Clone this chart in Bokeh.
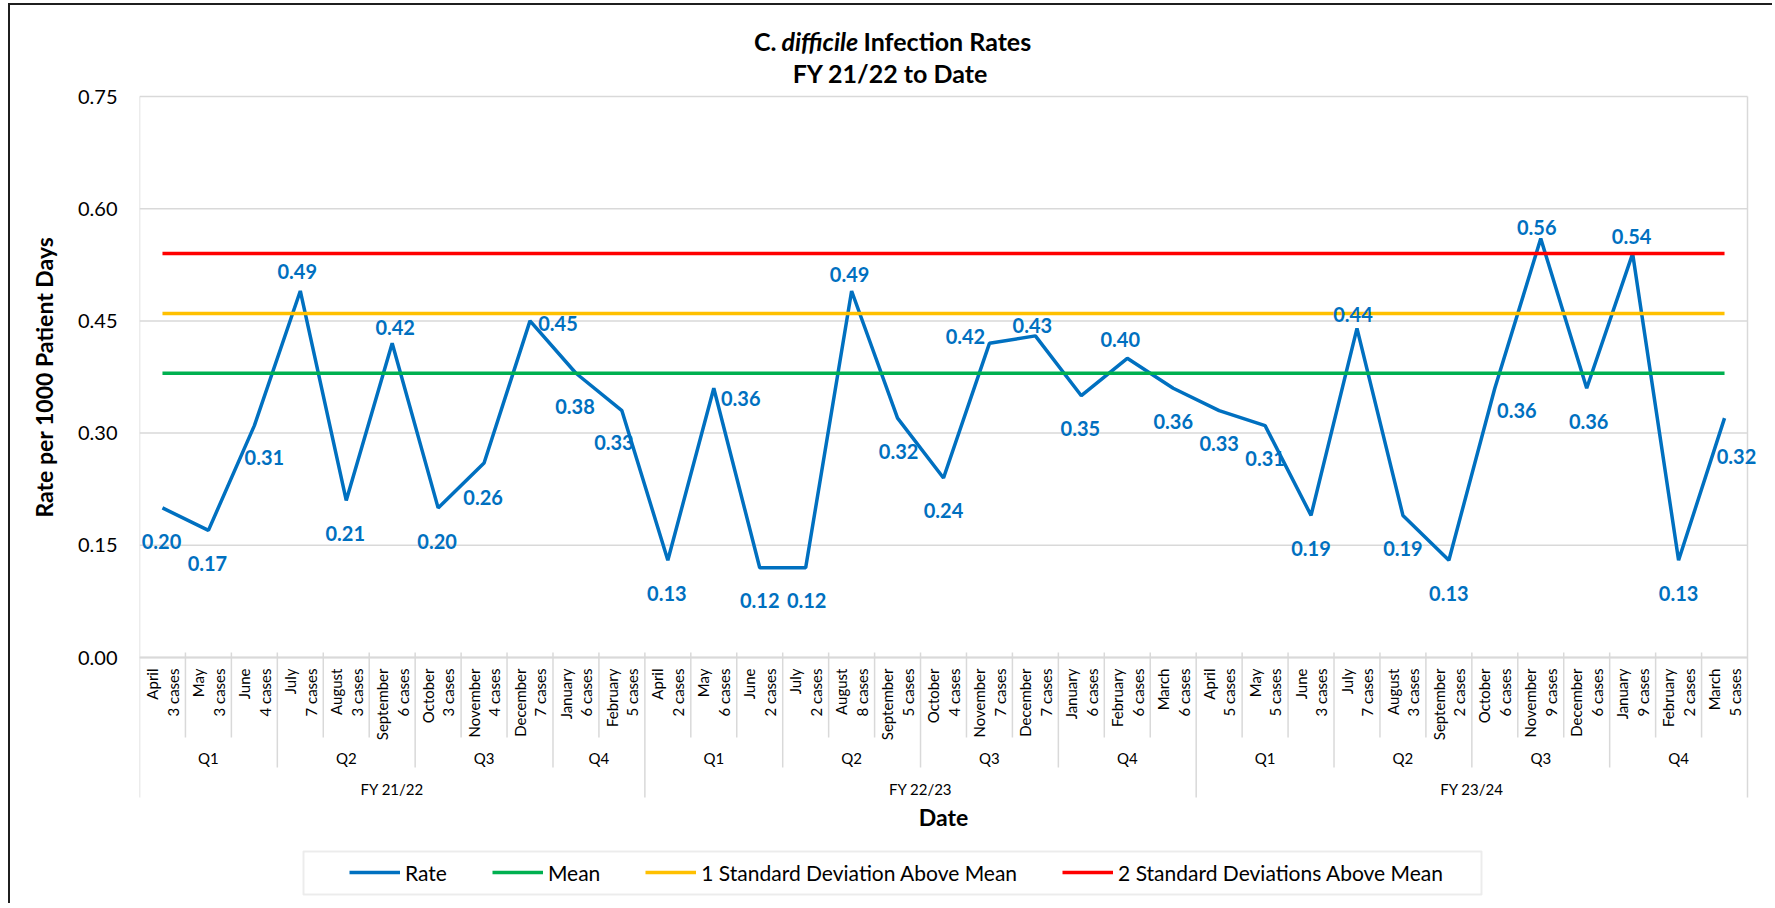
import math
from bokeh.plotting import figure
from bokeh.models import (Range1d, FixedTicker, NumeralTickFormatter, ColumnDataSource,
                          Legend, LegendItem, BoxAnnotation, Title)
from bokeh.core.properties import value
from bokeh.embed import file_html
from bokeh.resources import INLINE

# ---------------- data ----------------
months = ["April", "May", "June", "July", "August", "September", "October", "November",
          "December", "January", "February",
          "April", "May", "June", "July", "August", "September", "October", "November",
          "December", "January", "February", "March",
          "April", "May", "June", "July", "August", "September", "October", "November",
          "December", "January", "February", "March"]
cases = [3, 3, 4, 7, 3, 6, 3, 4, 7, 6, 5,
         2, 6, 2, 2, 8, 5, 4, 7, 7, 6, 6, 6,
         5, 5, 3, 7, 3, 2, 6, 9, 6, 9, 2, 5]
quarters = ["Q1", "Q1", "Q1", "Q2", "Q2", "Q2", "Q3", "Q3", "Q3", "Q4", "Q4",
            "Q1", "Q1", "Q1", "Q2", "Q2", "Q2", "Q3", "Q3", "Q3", "Q4", "Q4", "Q4",
            "Q1", "Q1", "Q1", "Q2", "Q2", "Q2", "Q3", "Q3", "Q3", "Q4", "Q4", "Q4"]
fiscal_years = ["FY 21/22"] * 11 + ["FY 22/23"] * 12 + ["FY 23/24"] * 12
rates = [0.20, 0.17, 0.31, 0.49, 0.21, 0.42, 0.20, 0.26, 0.45, 0.38, 0.33,
         0.13, 0.36, 0.12, 0.12, 0.49, 0.32, 0.24, 0.42, 0.43, 0.35, 0.40, 0.36,
         0.33, 0.31, 0.19, 0.44, 0.19, 0.13, 0.36, 0.56, 0.36, 0.54, 0.13, 0.32]
mean_rate = 0.38
one_sd_above = 0.46
two_sd_above = 0.54
y_ticks = [0.00, 0.15, 0.30, 0.45, 0.60, 0.75]

# data-label nudges in pixels (dx right, dy down) -- placement only
label_nudge = [(-1, 34), (-1, 33), (10, 32), (-3, -19), (-1, 33), (3, -16), (-1, 34),
               (-1, 34), (28, 3), (-1, 33), (-8, 32),
               (-1, 33), (27, 10), (0, 33), (1, 33), (-2, -16), (1, 33), (0, 33),
               (-24, -7), (-3, -10), (-1, 33), (-7, -19), (0, 33),
               (0, 33), (0, 33), (0, 33), (-4, -14), (0, 33), (0, 33), (22, 22),
               (-4, -11), (2, 33), (-1, -17), (0, 33), (12, 38)]

# ---------------- geometry (page pixels) ----------------
FONT = "Lato"
BLUE, GREEN, GOLD, RED = "#0070C0", "#00B050", "#FFC000", "#FF0000"
GRID = "#d9d9d9"
FIG_X0, FIG_Y0 = 10, 5          # canvas origin on the page (after margin + border)
W, H = 1764, 900
PLOT_L, PLOT_R = 139, 1747
ZERO_Y, TOP_Y = 657, 96
n = len(months)
cat_w = (PLOT_R - PLOT_L) / n
ppu = (ZERO_Y - TOP_Y) / max(y_ticks)


def px_to_x(px):
    return -0.5 + (px - PLOT_L) / cat_w


def py_to_y(py):
    return (ZERO_Y - py) / ppu


p = figure(width=W, height=H, output_backend="svg", toolbar_location=None,
           x_range=Range1d(-0.5, px_to_x(FIG_X0 + W)),
           y_range=Range1d(py_to_y(FIG_Y0 + H), py_to_y(FIG_Y0)),
           x_axis_location=None,
           min_border_left=PLOT_L - FIG_X0, min_border_right=0,
           min_border_top=0, min_border_bottom=0)
p.styles = {"margin-left": "8px", "margin-top": "3px",
            "border-left": "2px solid #1f1f1f", "border-top": "2px solid #1f1f1f"}
p.outline_line_color = None
p.background_fill_color = "white"
p.border_fill_color = "white"
p.xgrid.visible = False
p.ygrid.visible = False

ax = p.yaxis[0]
ax.ticker = FixedTicker(ticks=y_ticks)
ax.formatter = NumeralTickFormatter(format="0.00")
ax.axis_line_color = None
ax.major_tick_line_color = None
ax.minor_tick_line_color = None
ax.major_tick_out = 0
ax.major_tick_in = 0
ax.major_label_standoff = 22
ax.major_label_text_font = FONT
ax.major_label_text_font_size = "20px"
ax.major_label_text_color = "#000000"

# y-axis title: text starts (bottom end) at page y 517, i.e. centred on the 0..0.75 span
ytitle = Title(text="Rate per 1000 Patient Days", align="left",
               offset=(FIG_Y0 + H) - 517, standoff=33,
               text_font=FONT, text_font_size="23px", text_font_style="bold",
               text_color="#000000")
p.add_layout(ytitle, "left")

xs = list(range(n))

# horizontal gridlines, only across the category span
p.segment(x0=[-0.5] * len(y_ticks), y0=y_ticks, x1=[n - 0.5] * len(y_ticks), y1=y_ticks,
          line_color=GRID, line_width=1.5)
p.segment(x0=[-0.5], y0=[0], x1=[n - 0.5], y1=[0], line_color=GRID, line_width=2)

# category separators (3 levels) and plot borders
sx, sy0, sy1 = [], [], []
for b in range(n + 1):
    if b == 0 or b == n:
        top, bot = max(y_ticks), py_to_y(797)
    elif fiscal_years[b] != fiscal_years[b - 1]:
        top, bot = py_to_y(ZERO_Y - 5), py_to_y(797)
    elif quarters[b] != quarters[b - 1]:
        top, bot = py_to_y(ZERO_Y - 5), py_to_y(767)
    else:
        top, bot = py_to_y(ZERO_Y - 5), py_to_y(737)
    sx.append(b - 0.5)
    sy0.append(top)
    sy1.append(bot)
p.segment(x0=sx, y0=sy0, x1=sx, y1=sy1, line_color=GRID, line_width=1.5)

# month labels
month_src = ColumnDataSource(dict(x=xs, y=[py_to_y(ZERO_Y + 11)] * n,
                                  t=[f"{m}\n{c} cases" for m, c in zip(months, cases)]))
p.text(x="x", y="y", text="t", source=month_src, angle=math.pi / 2,
       text_align="right", text_baseline="middle", text_font=value(FONT),
       text_font_size="15px", text_color="#000000", text_line_height=1.15)

# quarter and FY labels
q_x, q_t, f_x, f_t = [], [], [], []
start = 0
for i in range(1, n + 1):
    if i == n or quarters[i] != quarters[i - 1] or fiscal_years[i] != fiscal_years[i - 1]:
        q_x.append((xs[start] + xs[i - 1]) / 2)
        q_t.append(quarters[start])
        start = i
start = 0
for i in range(1, n + 1):
    if i == n or fiscal_years[i] != fiscal_years[i - 1]:
        f_x.append((xs[start] + xs[i - 1]) / 2)
        f_t.append(fiscal_years[start])
        start = i
p.text(x=q_x, y=[py_to_y(757)] * len(q_x), text=q_t, text_align="center",
       text_baseline="middle", text_font=value(FONT), text_font_size="15px", text_color="#000000")
p.text(x=f_x, y=[py_to_y(788)] * len(f_x), text=f_t, text_align="center",
       text_baseline="middle", text_font=value(FONT), text_font_size="15px", text_color="#000000")

# axis title "Date"
p.text(x=[(xs[0] + xs[-1]) / 2], y=[py_to_y(816)], text=["Date"], text_align="center",
       text_baseline="middle", text_font=value(FONT), text_font_size="23px",
       text_font_style="bold", text_color="#000000")

# chart title
TS = "25px"
t1y = py_to_y(40)
p.text(x=[px_to_x(776)], y=[t1y], text=["C."], text_align="right", text_baseline="middle",
       text_font=value(FONT), text_font_size=TS, text_font_style="bold", text_color="#000000")
p.text(x=[px_to_x(781)], y=[t1y], text=["difficile"], text_align="left", text_baseline="middle",
       text_font=value(FONT), text_font_size=TS, text_font_style="bold italic",
       text_color="#000000")
p.text(x=[px_to_x(863)], y=[t1y], text=["Infection Rates"], text_align="left",
       text_baseline="middle", text_font=value(FONT), text_font_size=TS,
       text_font_style="bold", text_color="#000000")
p.text(x=[px_to_x(890)], y=[py_to_y(72)], text=["FY 21/22 to Date"], text_align="center",
       text_baseline="middle", text_font=value(FONT), text_font_size=TS,
       text_font_style="bold", text_color="#000000")

# series
r_rate = p.line(xs, rates, line_color=BLUE, line_width=3.5)
r_mean = p.line([xs[0], xs[-1]], [mean_rate, mean_rate], line_color=GREEN, line_width=3.5)
r_sd1 = p.line([xs[0], xs[-1]], [one_sd_above, one_sd_above], line_color=GOLD, line_width=3.5)
r_sd2 = p.line([xs[0], xs[-1]], [two_sd_above, two_sd_above], line_color=RED, line_width=3.5)

# data labels
lab_src = ColumnDataSource(dict(
    x=[x + d[0] / cat_w for x, d in zip(xs, label_nudge)],
    y=[r - d[1] / ppu for r, d in zip(rates, label_nudge)],
    t=[f"{r:.2f}" for r in rates]))
p.text(x="x", y="y", text="t", source=lab_src, text_align="center", text_baseline="middle",
       text_font=value(FONT), text_font_size="20px", text_font_style="bold", text_color=BLUE)

# legend
p.add_layout(BoxAnnotation(left=px_to_x(303), right=px_to_x(1481), top=py_to_y(851),
                           bottom=py_to_y(894), fill_alpha=0, line_color="#bfbfbf",
                           line_width=2))
LEG_H = 24
legend = Legend(items=[LegendItem(label="Rate", renderers=[r_rate]),
                       LegendItem(label="Mean", renderers=[r_mean]),
                       LegendItem(label="1 Standard Deviation Above Mean", renderers=[r_sd1]),
                       LegendItem(label="2 Standard Deviations Above Mean", renderers=[r_sd2])],
                orientation="horizontal",
                location=(349 - PLOT_L, (FIG_Y0 + H) - 872.5 - LEG_H / 2),
                glyph_width=51, glyph_height=LEG_H, label_height=LEG_H, label_standoff=5,
                spacing=45, padding=0, margin=0, border_line_alpha=0,
                background_fill_alpha=0, label_text_font=FONT, label_text_font_size="21px",
                label_text_color="#000000")
p.add_layout(legend)

open("out.html", "w").write(file_html(p, INLINE))
